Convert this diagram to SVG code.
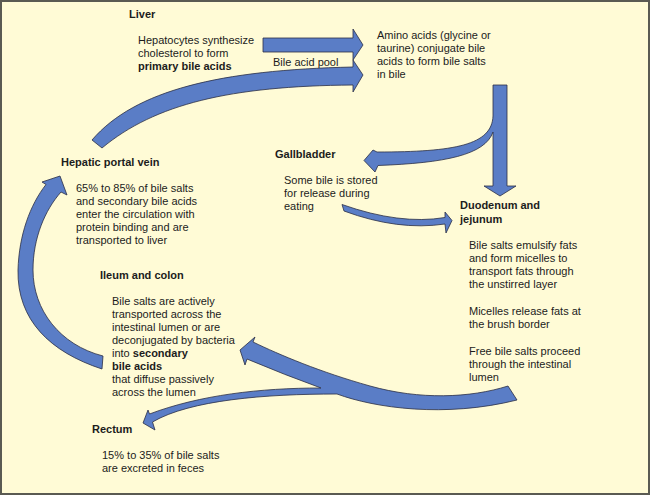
<svg xmlns="http://www.w3.org/2000/svg" width="650" height="495" viewBox="0 0 650 495">
<style>
text{font-family:"Liberation Sans",Arial,sans-serif;font-size:11px;fill:#1c1c1c}
.b{font-weight:bold}
.arr{fill:#5A7DC6;stroke:#2b2f45;stroke-width:0.8;stroke-linejoin:miter}
</style>
<rect x="1" y="1" width="648" height="493" fill="#FFFBD6" stroke="#5a5a52" stroke-width="2"/>
<g id="connectors">
<path class="arr" d="M92,140 C135,90 220,70 353,67 L353,60 L363,75 L353,92 L353,85 C230,86 155,104 102,148 Z"/>
<path class="arr" d="M263,38 L353,38 L353,29 L363,45 L353,60 L353,52 L263,52 Z"/>
<path class="arr" d="M493,85 L493,116 C492,145 455,152 377,152 L373,150 L364,160.5 L375,172 L378,165.5 C445,163 485,155 493,132 L493,186 L484,186 L500,196 L516,186 L507,186 L507,85 Z"/>
<path class="arr" d="M342,204.5 Q400,225 445,217.5 L445,212 L452,220.5 L446,233 L445,224 Q398,231 344,211 Z"/>
<path class="arr" d="M102,369 C50,352 17,320 18,270 C19,235 30,205 46,184.5 L42,182 L60,176 L67,195 L61,192 C45,210 33,238 33,270 C33,310 60,345 103,356 Z"/>
<path class="arr" d="M508,386 C470,398 420,400 370,386 C320,372 280,355 253,342 L255,337 L240,350 L245,365 L247,359 Q285,375 321,388 C260,388 200,395 149.5,414 L148,410 L143,423 L155,430 L152.5,422 C190,400 265,394 337,394 C375,408 445,418 517,400 Z"/>
</g>
<g id="liver">
<text class="b" x="129" y="18">Liver</text>
<text x="138" y="44">Hepatocytes synthesize</text>
<text x="138" y="57">cholesterol to form</text>
<text class="b" x="138" y="70">primary bile acids</text>
</g>
<g id="bile-acid-pool">
<text x="273" y="65.5">Bile acid pool</text>
</g>
<g id="amino-acids">
<text x="377" y="38.5">Amino acids (glycine or</text>
<text x="377" y="51.5">taurine) conjugate bile</text>
<text x="377" y="64.5">acids to form bile salts</text>
<text x="377" y="77.5">in bile</text>
</g>
<g id="gallbladder">
<text class="b" x="275" y="158">Gallbladder</text>
<text x="284" y="184">Some bile is stored</text>
<text x="284" y="197">for release during</text>
<text x="284" y="210">eating</text>
</g>
<g id="duodenum">
<text class="b" x="460" y="209">Duodenum and</text>
<text class="b" x="460" y="223">jejunum</text>
<text x="469" y="249">Bile salts emulsify fats</text>
<text x="469" y="262">and form micelles to</text>
<text x="469" y="275">transport fats through</text>
<text x="469" y="288">the unstirred layer</text>
<text x="469" y="315">Micelles release fats at</text>
<text x="469" y="328">the brush border</text>
<text x="469" y="355">Free bile salts proceed</text>
<text x="469" y="368">through the intestinal</text>
<text x="469" y="381">lumen</text>
</g>
<g id="hepatic-portal-vein">
<text class="b" x="61" y="165.5">Hepatic portal vein</text>
<text x="76" y="191.5">65% to 85% of bile salts</text>
<text x="76" y="204.5">and secondary bile acids</text>
<text x="76" y="217.5">enter the circulation with</text>
<text x="76" y="230.5">protein binding and are</text>
<text x="76" y="243.5">transported to liver</text>
</g>
<g id="ileum-colon">
<text class="b" x="100" y="279">Ileum and colon</text>
<text x="112" y="305">Bile salts are actively</text>
<text x="112" y="318">transported across the</text>
<text x="112" y="331">intestinal lumen or are</text>
<text x="112" y="344">deconjugated by bacteria</text>
<text x="112" y="357">into <tspan class="b">secondary</tspan></text>
<text class="b" x="112" y="370">bile acids</text>
<text x="112" y="383">that diffuse passively</text>
<text x="112" y="396">across the lumen</text>
</g>
<g id="rectum">
<text class="b" x="92" y="433">Rectum</text>
<text x="102" y="459">15% to 35% of bile salts</text>
<text x="102" y="472">are excreted in feces</text>
</g>
</svg>
